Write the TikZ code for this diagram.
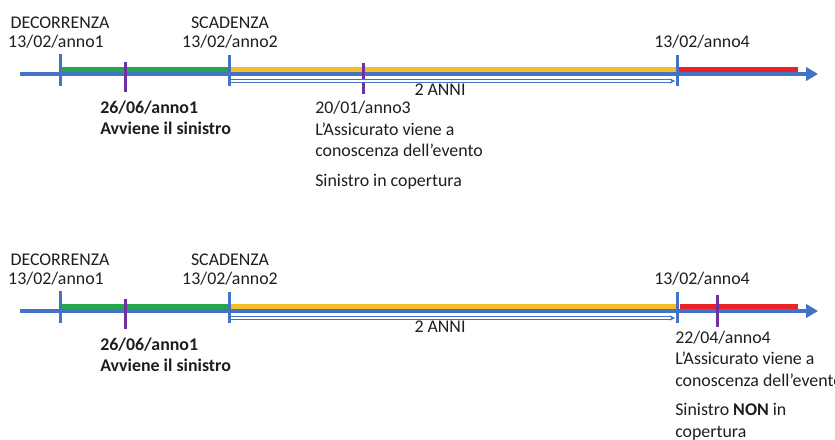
\documentclass[tikz,border=0pt]{standalone}
\usepackage{fontspec}
\setmainfont{Carlito}
\usetikzlibrary{arrows.meta}
\usetikzlibrary{math}

\definecolor{axisblue}{HTML}{4472C4}
\definecolor{bargreen}{HTML}{22A84A}
\definecolor{baryellow}{HTML}{F5BD2A}
\definecolor{barred}{HTML}{EA2228}
\definecolor{evpurple}{HTML}{7030A0}
\definecolor{txtgray}{HTML}{1E1E1E}

\begin{document}
\begin{tikzpicture}[x=0.75pt,y=-0.75pt,
    every node/.style={font=\fontsize{13.4}{16.1}\selectfont, text=txtgray, inner sep=0pt},
    axisline/.style={axisblue, line width=3pt, -{Triangle[length=9pt,width=10pt]}},
    bar/.style={line width=3.75pt},
    tickline/.style={axisblue, line width=2.25pt},
    evline/.style={evpurple, line width=2.25pt},
    spanline/.style={axisblue, double=white, double distance=1pt, line width=0.8pt, -{Stealth[length=4pt,width=4pt]}}]

    \useasboundingbox (0,0) rectangle (835,439);

    % prima linea del tempo
    \tikzmath{\yo = 0;};
    \coordinate (axs1) at (20,74+\yo);
    \coordinate (axe1) at (818,74+\yo);
    \draw[axisline] (axs1) -- (axe1);
    \draw[bar, bargreen] (60,69.5+\yo) -- (229,69.5+\yo);
    \draw[bar, baryellow] (229,69.5+\yo) -- (677,69.5+\yo);
    \draw[bar, barred] (679,69.5+\yo) -- (798,69.5+\yo);
    \draw[tickline] (60,54+\yo) -- (60,86+\yo);
    \draw[tickline] (229,55+\yo) -- (229,86+\yo);
    \draw[tickline] (677,55+\yo) -- (677,86+\yo);
    \draw[evline] (125,62+\yo) -- (125,92+\yo);
    \draw[evline] (363,63+\yo) -- (363,94+\yo);
    \coordinate (sps1) at (231,81+\yo);
    \coordinate (spe1) at (675,81+\yo);
    \draw[spanline] (sps1) -- (spe1);

    \node[anchor=base] (dec1) at (60,28+\yo) {DECORRENZA};
    \node[anchor=base] (dat1a) at (56,47+\yo) {13/02/anno1};
    \node[anchor=base] (scad1) at (230,28+\yo) {SCADENZA};
    \node[anchor=base] (dat1b) at (230,47+\yo) {13/02/anno2};
    \node[anchor=base] (dat1c) at (702,47+\yo) {13/02/anno4};
    \node[anchor=base] (anni1) at (440,95+\yo) {2 ANNI};
    % ancora sulla riga di base dell'ultima riga
    \node[anchor=base west, align=left, font=\fontsize{13.4}{16.1}\selectfont\bfseries] (sin1) at (100,134.5+\yo) {26/06/anno1\\Avviene il sinistro};
    \node[anchor=base west, align=left] (con1) at (315,186+\yo) {20/01/anno3\\L’Assicurato viene a\\conoscenza dell’evento\\[6pt]Sinistro in copertura};

    % seconda linea del tempo
    \tikzmath{\yo = 237;};
    \coordinate (axs2) at (20,74+\yo);
    \coordinate (axe2) at (818,74+\yo);
    \draw[axisline] (axs2) -- (axe2);
    \draw[bar, bargreen] (60,69.5+\yo) -- (229,69.5+\yo);
    \draw[bar, baryellow] (229,69.5+\yo) -- (677,69.5+\yo);
    \draw[bar, barred] (680,69.5+\yo) -- (798,69.5+\yo);
    \draw[tickline] (60,54+\yo) -- (60,86+\yo);
    \draw[tickline] (229,55+\yo) -- (229,86+\yo);
    \draw[tickline] (677,55+\yo) -- (677,86+\yo);
    \draw[evline] (125,62+\yo) -- (125,92+\yo);
    \draw[evline] (717,58+\yo) -- (717,90+\yo);
    \coordinate (sps2) at (231,81+\yo);
    \coordinate (spe2) at (675,81+\yo);
    \draw[spanline] (sps2) -- (spe2);

    \node[anchor=base] (dec2) at (60,28+\yo) {DECORRENZA};
    \node[anchor=base] (dat2a) at (56,47+\yo) {13/02/anno1};
    \node[anchor=base] (scad2) at (230,28+\yo) {SCADENZA};
    \node[anchor=base] (dat2b) at (230,47+\yo) {13/02/anno2};
    \node[anchor=base] (dat2c) at (702,47+\yo) {13/02/anno4};
    \node[anchor=base] (anni2) at (440,95+\yo) {2 ANNI};
    \node[anchor=base west, align=left, font=\fontsize{13.4}{16.1}\selectfont\bfseries] (sin2) at (100,134.5+\yo) {26/06/anno1\\Avviene il sinistro};
    \node[anchor=base west, align=left] (con2) at (675,200.3+\yo) {22/04/anno4\\L’Assicurato viene a\\conoscenza dell’evento\\[6pt]Sinistro \textbf{NON} in\\copertura};

\end{tikzpicture}
\end{document}
